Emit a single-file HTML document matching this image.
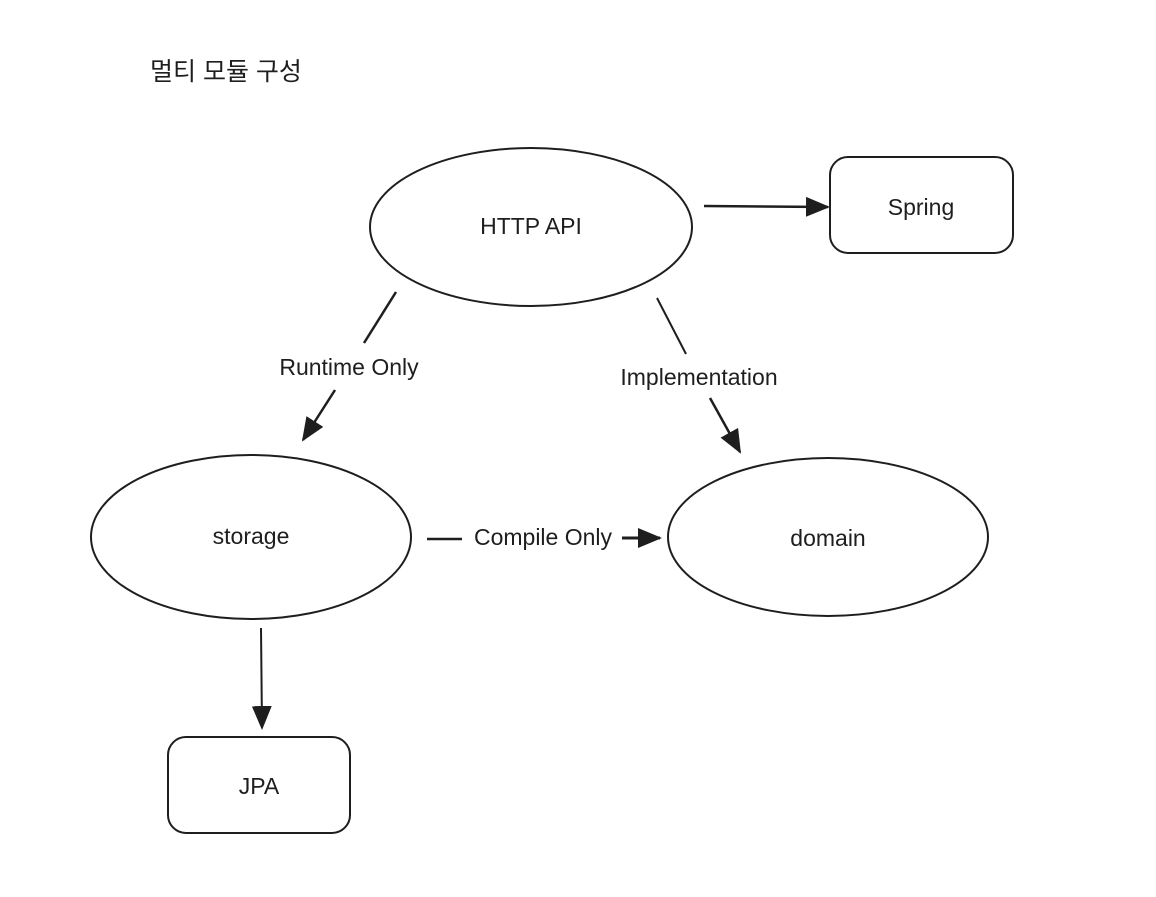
<!DOCTYPE html>
<html><head><meta charset="utf-8"><style>
body{margin:0;background:#fff;width:1156px;height:892px;overflow:hidden}
svg text{font-family:"Liberation Sans","Noto Sans CJK KR",sans-serif;fill:#1e1e1e}
</style></head><body>
<svg width="1156" height="892" viewBox="0 0 1156 892">
<defs>
<marker id="b" markerWidth="26" markerHeight="26" refX="22" refY="13" orient="auto" markerUnits="userSpaceOnUse"><path d="M0,3 L24,13 L0,23 z" fill="#1e1e1e"/></marker></defs>
<text x="150" y="80" font-size="25">멀티 모듈 구성</text>
<g fill="none" stroke="#1e1e1e" stroke-width="2">
<ellipse cx="531" cy="227" rx="161" ry="79"/>
<ellipse cx="251" cy="537" rx="160" ry="82"/>
<ellipse cx="828" cy="537" rx="160" ry="79"/>
<rect x="830" y="157" width="183" height="96" rx="18"/>
<rect x="168" y="737" width="182" height="96" rx="18"/>
<line x1="704" y1="206" x2="828" y2="207" stroke-width="2.5" marker-end="url(#b)"/>
<line x1="396" y1="292" x2="364" y2="343" stroke-width="2.5"/>
<line x1="335" y1="390" x2="303" y2="440" stroke-width="2.5" marker-end="url(#b)"/>
<line x1="657" y1="298" x2="686" y2="354"/>
<line x1="710" y1="398" x2="740" y2="452" stroke-width="2.5" marker-end="url(#b)"/>
<line x1="427" y1="539" x2="462" y2="539" stroke-width="2.5"/>
<line x1="622" y1="538" x2="660" y2="538" stroke-width="3" marker-end="url(#b)"/>
<line x1="261" y1="628" x2="262" y2="728" stroke-width="2" marker-end="url(#b)"/>
</g>
<g font-size="23" text-anchor="middle">
<text x="531" y="234">HTTP API</text>
<text x="921" y="215">Spring</text>
<text x="251" y="544">storage</text>
<text x="828" y="546">domain</text>
<text x="259" y="794">JPA</text>
<text x="349" y="375">Runtime Only</text>
<text x="699" y="385">Implementation</text>
<text x="543" y="545">Compile Only</text>
</g>
</svg>
</body></html>
